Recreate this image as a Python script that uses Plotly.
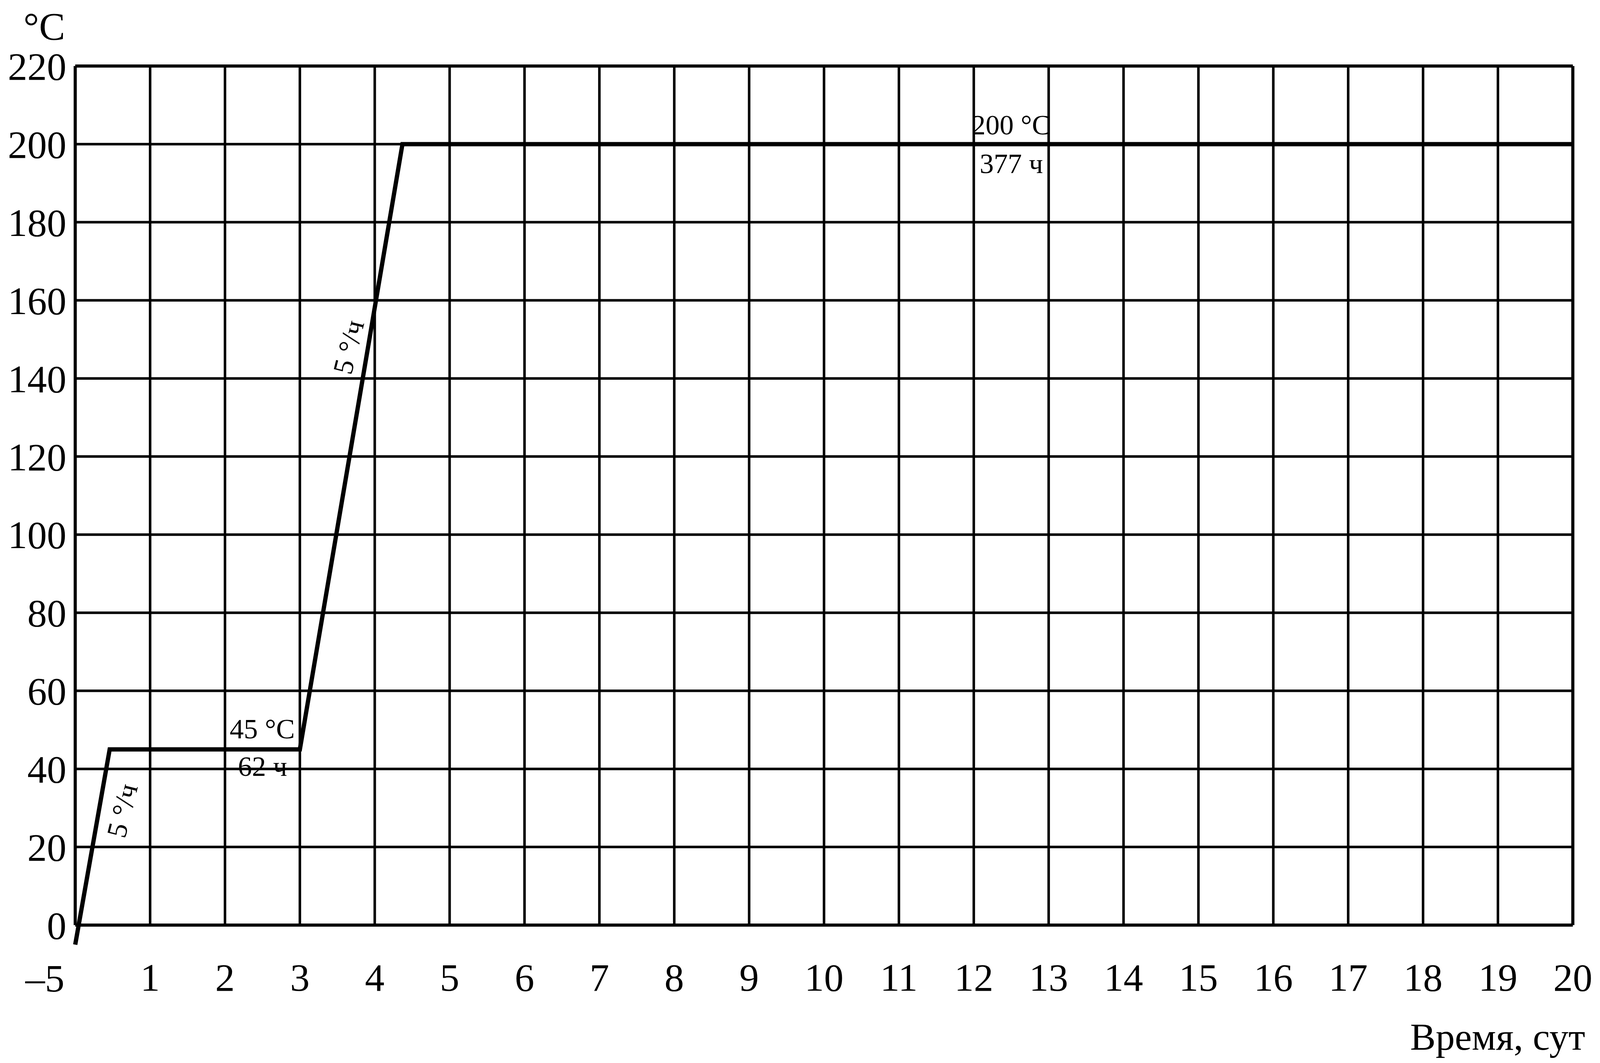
import plotly.graph_objects as go

# ---- data ----
time_days = [0, 0.46, 3.0, 4.37, 20]
temp_c = [-5, 45, 45, 200, 200]

x_grid = list(range(0, 21))
x_tick_vals = list(range(1, 21))
x_tick_text = [str(v) for v in x_tick_vals]
x_first_label = "–5"

y_tick_vals = list(range(0, 221, 20))
y_tick_text = [str(v) for v in y_tick_vals]

labels_text = ["45 °C", "62 ч", "200 °C", "377 ч"]
labels_x = [2.5, 2.5, 12.5, 12.5]
labels_y = [50.2, 40.6, 204.9, 195.0]

rate_text = ["5 °/ч", "5 °/ч"]
rate_x = [0.63, 3.65]
rate_y = [29.3, 148.0]

y_unit = "°C"
x_title = "Время, сут"

FONT = "Liberation Serif"
TICK_SIZE = 100
NOTE_SIZE = 72

fig = go.Figure()
fig.add_trace(go.Scatter(
    x=time_days, y=temp_c, mode="lines",
    line=dict(color="black", width=11),
    showlegend=False, hoverinfo="skip",
))

shapes = []
for xv in x_grid:
    w = 8 if xv in (x_grid[0], x_grid[-1]) else 6.5
    shapes.append(dict(type="line", xref="x", yref="y", x0=xv, x1=xv,
                       y0=y_tick_vals[0], y1=y_tick_vals[-1],
                       line=dict(color="black", width=w), layer="below"))
for yv in y_tick_vals:
    w = 8 if yv in (y_tick_vals[0], y_tick_vals[-1]) else 6.5
    shapes.append(dict(type="line", xref="x", yref="y", x0=x_grid[0], x1=x_grid[-1],
                       y0=yv, y1=yv,
                       line=dict(color="black", width=w), layer="below"))

annotations = []
for t, xx, yy in zip(labels_text, labels_x, labels_y):
    annotations.append(dict(x=xx, y=yy, xref="x", yref="y", text=t, showarrow=False,
                            xanchor="center", yanchor="middle",
                            font=dict(family=FONT, size=NOTE_SIZE, color="black")))
for t, xx, yy in zip(rate_text, rate_x, rate_y):
    annotations.append(dict(x=xx, y=yy, xref="x", yref="y", text=t, showarrow=False,
                            textangle=-76, xanchor="center", yanchor="middle",
                            font=dict(family=FONT, size=NOTE_SIZE, color="black")))
annotations.append(dict(x=0, y=0, xref="x", yref="paper", text=x_first_label,
                        showarrow=False, xanchor="right", yanchor="middle",
                        xshift=-26, yshift=-76,
                        font=dict(family=FONT, size=TICK_SIZE, color="black")))
annotations.append(dict(x=0, y=1, xref="x", yref="paper", text=y_unit,
                        showarrow=False, xanchor="right", yanchor="middle",
                        xshift=-24, yshift=92,
                        font=dict(family=FONT, size=TICK_SIZE, color="black")))
annotations.append(dict(x=20, y=0, xref="x", yref="paper", text=x_title,
                        showarrow=False, xanchor="right", yanchor="middle",
                        xshift=34, yshift=-226,
                        font=dict(family=FONT, size=98, color="black")))

fig.update_layout(
    autosize=True,
    margin=dict(l=170, r=52, t=151, b=285),
    paper_bgcolor="white", plot_bgcolor="white",
    shapes=shapes, annotations=annotations,
    font=dict(family=FONT, size=TICK_SIZE, color="black"),
    xaxis=dict(range=[-0.05, 20.05], tickvals=x_tick_vals, ticktext=x_tick_text,
               showgrid=False, zeroline=False, showline=False, ticks="",
               ticklabelstandoff=7,
               tickfont=dict(family=FONT, size=TICK_SIZE, color="black")),
    yaxis=dict(range=[-6, 221], tickvals=y_tick_vals, ticktext=y_tick_text,
               showgrid=False, zeroline=False, showline=False, ticks="",
               ticklabelstandoff=12,
               tickfont=dict(family=FONT, size=TICK_SIZE, color="black")),
)

fig.write_html("out.html", default_width="100%", default_height="calc(100vh - 16px)")
